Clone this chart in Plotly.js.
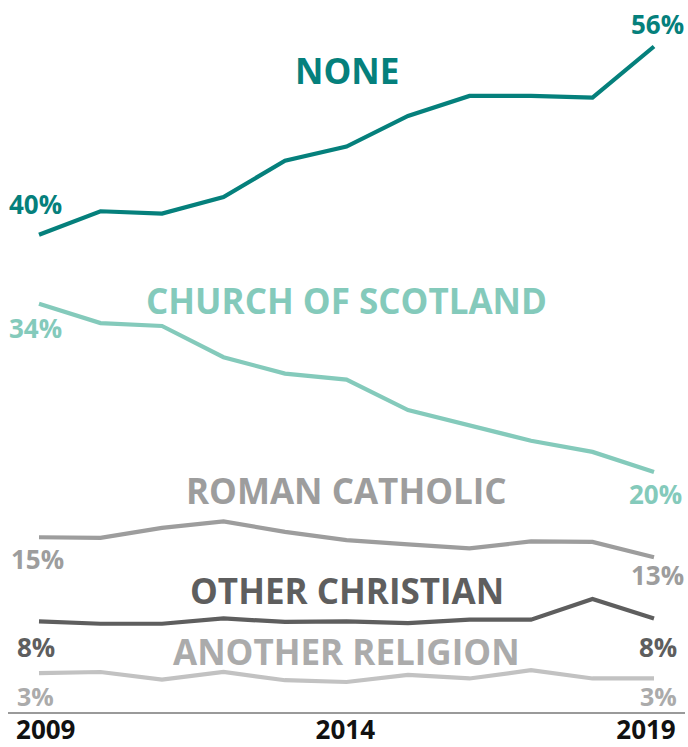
<!DOCTYPE html>
<html>
<head>
<meta charset="utf-8">
<script src="https://cdn.plot.ly/plotly-3.0.1.min.js"></script>
<style>html,body{margin:0;padding:0;background:#fff;}#chart{width:688px;height:747px;}</style>
</head>
<body>
<div id="chart"></div>
<script>
// ---- data ----
const years = [2009, 2010, 2011, 2012, 2013, 2014, 2015, 2016, 2017, 2018, 2019];
const none = [40.0, 42.0, 41.8, 43.2, 46.3, 47.5, 50.1, 51.8, 51.8, 51.65, 56.0];
const churchOfScotland = [34.15, 32.5, 32.25, 29.6, 28.2, 27.7, 25.1, 23.8, 22.5, 21.55, 19.85];
const romanCatholic = [14.3, 14.25, 15.1, 15.65, 14.75, 14.05, 13.7, 13.35, 13.95, 13.9, 12.6];
const otherChristian = [7.15, 6.95, 6.95, 7.4, 7.1, 7.15, 7.0, 7.3, 7.3, 9.05, 7.4];
const anotherReligion = [2.75, 2.85, 2.2, 2.85, 2.15, 2.0, 2.6, 2.3, 3.0, 2.3, 2.3];
const seriesNames = ['NONE', 'CHURCH OF SCOTLAND', 'ROMAN CATHOLIC', 'OTHER CHRISTIAN', 'ANOTHER RELIGION'];
const startLabels = ['40%', '34%', '15%', '8%', '3%'];
const endLabels = ['56%', '20%', '13%', '8%', '3%'];
const tickLabels = ['2009', '2014', '2019'];

// ---- styles ----
const lineColors = ['#05807c', '#84cabb', '#9d9d9d', '#5e5e5e', '#c2c2c2'];
const textColors = ['#05807c', '#84cabb', '#9d9d9d', '#5e5e5e', '#ababab'];
const FONT = '"Open Sans", "Noto Sans", sans-serif';
const allSeries = [none, churchOfScotland, romanCatholic, otherChristian, anotherReligion];

const traces = allSeries.map((vals, i) => ({
  x: years, y: vals, type: 'scatter', mode: 'lines', name: seriesNames[i],
  line: {color: lineColors[i], width: 4.2, shape: 'linear'},
  hoverinfo: 'skip'
}));

// label placements (x in years, y in %)
const namePos = [53.95, 34.45, 18.3, 9.8, 4.6];
const startPos = [[2008.94, 42.6], [2008.94, 32.05], [2008.97, 12.45], [2008.95, 4.95], [2008.95, 0.85]];
const endPos = [[2019.05, 57.95], [2019.02, 18.0], [2019.05, 11.1], [2019.07, 4.95], [2019.07, 0.85]];
const pctSizes = [26, 26, 26, 26, 25];

const annotations = [];
seriesNames.forEach((n, i) => {
  annotations.push({x: 2014, y: namePos[i], xref: 'x', yref: 'y', text: n, showarrow: false,
    xanchor: 'center', yanchor: 'middle',
    font: {family: FONT, size: 35, color: textColors[i], weight: 700}});
  annotations.push({x: startPos[i][0], y: startPos[i][1], xref: 'x', yref: 'y', text: startLabels[i], showarrow: false,
    xanchor: 'center', yanchor: 'middle',
    font: {family: FONT, size: pctSizes[i], color: textColors[i], weight: 700}});
  annotations.push({x: endPos[i][0], y: endPos[i][1], xref: 'x', yref: 'y', text: endLabels[i], showarrow: false,
    xanchor: 'center', yanchor: 'middle',
    font: {family: FONT, size: pctSizes[i], color: textColors[i], weight: 700}});
});

const layout = {
  width: 688, height: 747,
  margin: {l: 8, r: 3, t: 0, b: 35},
  paper_bgcolor: '#fff', plot_bgcolor: '#fff',
  showlegend: false,
  xaxis: {
    range: [2008.496, 2019.504],
    tickvals: [2009.11, 2013.98, 2018.87], ticktext: tickLabels,
    showgrid: false, zeroline: false,
    showline: true, linecolor: '#9a9a9a', linewidth: 1.5,
    ticks: '', ticklabelstandoff: -6,
    tickfont: {family: FONT, size: 26, color: '#111', weight: 700},
    fixedrange: true
  },
  yaxis: {
    range: [-0.55, 59.95],
    visible: false, showgrid: false, zeroline: false, fixedrange: true
  },
  annotations: annotations
};

Plotly.newPlot('chart', traces, layout, {displayModeBar: false, staticPlot: true});
</script>
</body>
</html>
